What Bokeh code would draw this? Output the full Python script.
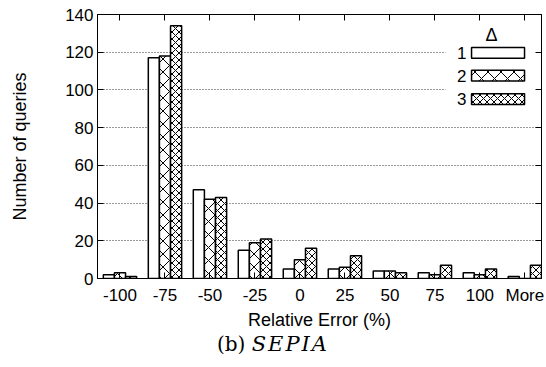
from bokeh.plotting import figure
from bokeh.models import Range1d, FixedTicker, LinearAxis, ColumnDataSource, Label, Div
from bokeh.layouts import column
from bokeh.transform import dodge
from bokeh.embed import file_html
from bokeh.resources import INLINE

# ---- data ----
categories = ["-100", "-75", "-50", "-25", "0", "25", "50", "75", "100", "More"]
delta1 = [2, 117, 47, 15, 5, 5, 4, 3, 3, 1]
delta2 = [3, 118, 42, 19, 10, 6, 4, 2, 2, 0]
delta3 = [1, 134, 43, 21, 16, 12, 3, 7, 5, 7]
series_names = ["1", "2", "3"]
y_ticks = [0, 20, 40, 60, 80, 100, 120, 140]

FONT = "Liberation Sans"
xpos = list(range(len(categories)))
src = ColumnDataSource(dict(x=xpos, d1=delta1, d2=delta2, d3=delta3))

p = figure(width=546, height=334, x_range=Range1d(-0.5, 9.37), y_range=Range1d(0, 140),
           output_backend="svg", toolbar_location=None,
           min_border_left=97, min_border_right=5, min_border_top=14, min_border_bottom=56)
p.background_fill_color = "white"
p.border_fill_color = "white"
p.outline_line_color = "black"
p.outline_line_width = 1
p.margin = 0

# grid
p.xgrid.visible = False
p.ygrid.ticker = FixedTicker(ticks=y_ticks)
p.ygrid.grid_line_color = "#333333"
p.ygrid.grid_line_dash = "1 2"
p.ygrid.grid_line_width = 1

# axes
def style_axis(ax):
    ax.axis_line_color = "black"
    ax.major_tick_line_color = "black"
    ax.major_tick_in = 6
    ax.major_tick_out = 0
    ax.minor_tick_line_color = None
    ax.major_label_text_font = FONT
    ax.major_label_text_font_size = "17px"
    ax.major_label_text_color = "black"
    ax.axis_label_text_font = FONT
    ax.axis_label_text_font_size = "18px"
    ax.axis_label_text_font_style = "normal"
    ax.axis_label_text_color = "black"

xa = p.xaxis[0]
xa.ticker = FixedTicker(ticks=xpos)
xa.major_label_overrides = {i: c for i, c in zip(xpos, categories)}
xa.axis_label = "Relative Error (%)"
style_axis(xa)
xa.major_label_standoff = 7
xa.axis_label_standoff = 2

ya = p.yaxis[0]
ya.ticker = FixedTicker(ticks=y_ticks)
ya.axis_label = "Number of queries"
style_axis(ya)
ya.major_label_standoff = 4
ya.axis_label_standoff = 32

top = LinearAxis(ticker=FixedTicker(ticks=xpos),
                 major_label_overrides={i: "" for i in xpos})
style_axis(top)
top.major_label_standoff = 0
p.add_layout(top, "above")

right = LinearAxis(ticker=FixedTicker(ticks=y_ticks),
                   major_label_overrides={t: "" for t in y_ticks})
style_axis(right)
right.major_label_standoff = 0
p.add_layout(right, "right")

# bars
bw = 0.247
common = dict(width=bw, fill_color="white", line_color="black", line_width=1.5,
              hatch_color="black", hatch_weight=1, source=src)
p.vbar(x=dodge("x", -bw, range=p.x_range), top="d1", bottom=0, **common)
p.vbar(x=dodge("x", 0, range=p.x_range), top="d2", bottom=0, hatch_pattern="x", hatch_scale=13, **common)
p.vbar(x=dodge("x", bw, range=p.x_range), top="d3", bottom=0, hatch_pattern="x", hatch_scale=7, **common)

# legend (drawn manually: labels left of samples)
LEG_BG = (7.237, 9.37, 91.2, 140)
p.quad(left=[LEG_BG[0]], right=[LEG_BG[1]], bottom=[LEG_BG[2]], top=[LEG_BG[3]],
       fill_color="white", line_color=None)
leg_left, leg_right, leg_h = 7.815, 8.993, 5.7
leg_centers = [119.6, 107.6, 95.1]
patterns = [None, "x", "x"]
scales = [13, 13, 7]
for name, cy, pat, sc in zip(series_names, leg_centers, patterns, scales):
    kw = dict(left=[leg_left], right=[leg_right], bottom=[cy - leg_h / 2], top=[cy + leg_h / 2],
              fill_color="white", line_color="black", line_width=1.5)
    if pat:
        kw.update(hatch_pattern=pat, hatch_scale=sc, hatch_color="black", hatch_weight=1)
    p.quad(**kw)
    p.add_layout(Label(x=7.70, y=cy, text=name, text_align="right", text_baseline="middle",
                       text_font=FONT, text_font_size="17px", text_color="black"))
p.add_layout(Label(x=8.26, y=128.9, text="\u0394", text_align="center", text_baseline="middle",
                   text_font=FONT, text_font_size="18px", text_color="black"))

# caption "(b) SEPIA"
caption = Div(
    text='(b) <i style="font-size:21px; letter-spacing:2px;">SEPIA</i>',
    width=546, height=33, margin=0,
    styles={"font-family": "DejaVu Serif", "font-size": "20px", "color": "black",
            "line-height": "20px", "text-align": "center", "width": "546px",
            "white-space": "nowrap", "background": "white"},
)

layout = column(p, caption, spacing=0, margin=0)
open("out.html", "w").write(file_html(layout, INLINE))
